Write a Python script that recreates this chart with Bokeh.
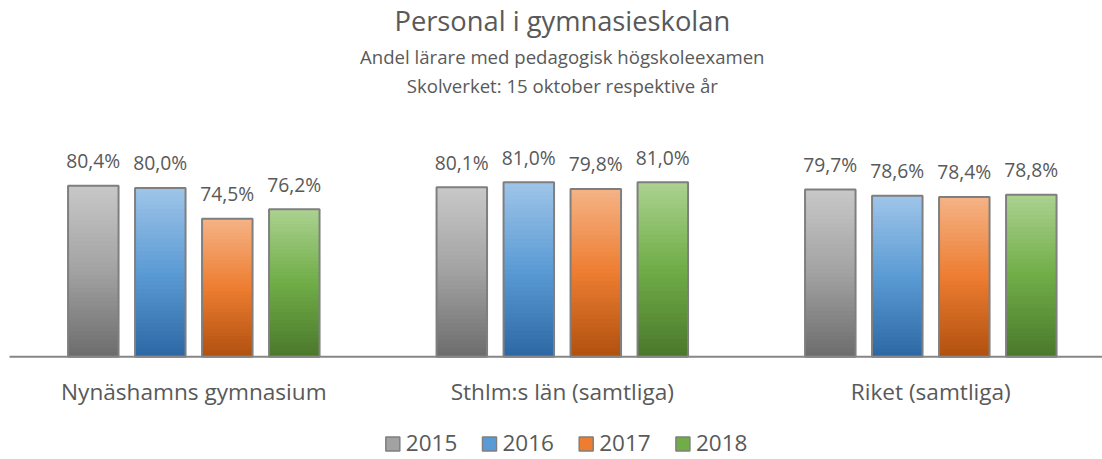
import numpy as np
from bokeh.plotting import figure
from bokeh.models import Range1d, ColumnDataSource
from bokeh.embed import file_html
from bokeh.resources import INLINE
from bokeh.core.properties import value

# ---------------- data ----------------
categories = ["Nynäshamns gymnasium", "Sthlm:s län (samtliga)", "Riket (samtliga)"]
years = ["2015", "2016", "2017", "2018"]
v2015 = [80.4, 80.1, 79.7]
v2016 = [80.0, 81.0, 78.6]
v2017 = [74.5, 79.8, 78.4]
v2018 = [76.2, 81.0, 78.8]
series = [v2015, v2016, v2017, v2018]
axis_min = 50.0

title = "Personal i gymnasieskolan"
subtitle1 = "Andel lärare med pedagogisk högskoleexamen"
subtitle2 = "Skolverket: 15 oktober respektive år"

# ---------------- style ----------------
tops = ["#c8c8c8", "#9fc5e8", "#f5b386", "#abd290"]
mids = ["#a2a2a2", "#5b9bd5", "#ed7d31", "#70ad47"]
bots = ["#6c6c6c", "#2c67a4", "#b0500f", "#4a782b"]
TXT = "#595959"
FONT = value("Open Sans")

W, H = 1102, 459
OFF = 0             # page offset of the figure
PX = 368.5          # pixels per category
PY = 5.63           # pixels per percent
KB = 0.42           # baseline correction (em)
x0_local = 9.05 - OFF
base_local = 356.3 - OFF
x_start = -x0_local / PX
x_end = (W - x0_local) / PX
y_start = axis_min - (H - base_local) / PY
y_end = y_start + H / PY


def yp(page_y):
    return y_end - (page_y - OFF) / PY


def ybl(page_y, fs):
    # data y for a text whose alphabetic baseline should sit at page_y
    return yp(page_y - KB * fs)


def hex2rgb(h):
    return np.array([int(h[i:i + 2], 16) for i in (1, 3, 5)], dtype=float)


def grad(j, t):
    # t = 1 at top, 0 at bottom
    if t >= 0.5:
        f = (t - 0.5) / 0.5
        c = hex2rgb(mids[j]) * (1 - f) + hex2rgb(tops[j]) * f
    else:
        f = t / 0.5
        c = hex2rgb(bots[j]) * (1 - f) + hex2rgb(mids[j]) * f
    return "#%02x%02x%02x" % tuple(int(round(v)) for v in c)


p = figure(width=W, height=H, x_range=Range1d(x_start, x_end), y_range=Range1d(y_start, y_end),
           x_axis_location=None, y_axis_location=None, min_border=0,
           toolbar_location=None, output_backend="svg", outline_line_color=None)
p.xgrid.grid_line_color = None
p.ygrid.grid_line_color = None
p.background_fill_color = "white"
p.border_fill_color = "white"

step = 67.0 / PX
bw = 50.5 / PX

xs, vals, cols_j = [], [], []
for j, s in enumerate(series):
    for i, v in enumerate(s):
        xs.append(i + 0.5 + (j - 1.5) * step)
        vals.append(v)
        cols_j.append(j)

# gradient fill built from stacked slices of each bar
N = 40
gx, gtop, gcol = [], [], []
for k in range(N):
    frac = (N - k) / N
    tc = frac - 0.5 / N
    for x, v, j in zip(xs, vals, cols_j):
        gx.append(x)
        gtop.append(axis_min + (v - axis_min) * frac)
        gcol.append(grad(j, tc))
p.vbar(x=gx, top=gtop, bottom=axis_min, width=bw, fill_color=gcol, line_color=None)

FS_LAB, FS_CAT, FS_T, FS_S, FS_LEG = 19.3, 22.6, 27.3, 18.6, 22.5

src = ColumnDataSource(dict(x=xs, top=vals,
                            label=[("%.1f" % v).replace(".", ",") + "%" for v in vals],
                            ly=[v + (17.0 + KB * FS_LAB) / PY for v in vals]))
p.vbar(x="x", top="top", bottom=axis_min, width=bw, source=src,
       fill_color=None, line_color="#7f7f7f", line_width=2)

# axis line
p.segment(x0=[0], y0=[axis_min], x1=[len(categories)], y1=[axis_min], line_color="#868686", line_width=2)

# data labels
p.text(x="x", y="ly", text="label", source=src, text_align="center", text_baseline="alphabetic",
       text_font=FONT, text_font_size=f"{FS_LAB}px", text_color=TXT)

# category labels
p.text(x=[i + 0.5 for i in range(len(categories))], y=[ybl(400, FS_CAT)] * len(categories), text=categories,
       text_align="center", text_baseline="alphabetic", text_font=FONT, text_font_size=f"{FS_CAT}px",
       text_color=TXT)

# titles
p.text(x=[1.5], y=[ybl(31.7, FS_T)], text=[title], text_align="center", text_baseline="alphabetic",
       text_font=FONT, text_font_size=f"{FS_T}px", text_color=TXT)
p.text(x=[1.5, 1.5], y=[ybl(64.3, FS_S), ybl(93.3, FS_S)], text=[subtitle1, subtitle2], text_align="center",
       text_baseline="alphabetic", text_font=FONT, text_font_size=f"{FS_S}px", text_color=TXT)

# legend
lx = [1.5 + (-169.5 + k * 96.7) / PX for k in range(len(years))]
p.rect(x=lx, y=[yp(443.5)] * len(years), width=14, height=14, width_units="screen", height_units="screen",
       fill_color=mids, line_color="#7f7f7f", line_width=1.5)
p.text(x=[x + 13.0 / PX for x in lx], y=[ybl(451.5, FS_LEG)] * len(years), text=years, text_align="left",
       text_baseline="alphabetic", text_font=FONT, text_font_size=f"{FS_LEG}px", text_color=TXT)

open("out.html", "w").write(file_html(p, INLINE))
